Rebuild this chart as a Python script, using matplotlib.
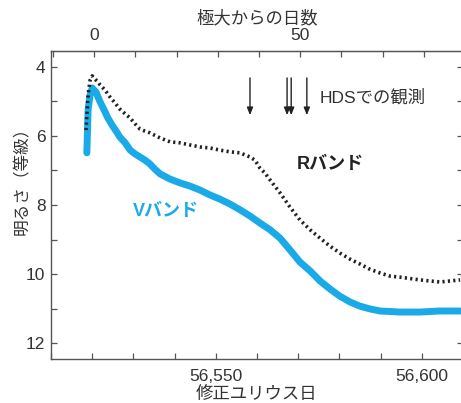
import numpy as np
import matplotlib.pyplot as plt
from matplotlib.ticker import MultipleLocator, FixedLocator, FuncFormatter

plt.rcParams['font.family'] = ['Liberation Sans', 'Noto Sans CJK JP', 'DejaVu Sans']

# 極大の日 (MJD)
t_max = 56520.5

# Vバンド (MJD, 等級)
v_mjd = [56518.7, 56519.0, 56519.5, 56520.0, 56520.4, 56520.9, 56521.4, 56521.9,
         56522.9, 56523.8, 56524.8, 56525.8, 56526.7, 56528.0, 56529.2, 56530.4,
         56531.6, 56532.8, 56534.0, 56535.2, 56536.5, 56538.9, 56541.3, 56543.7,
         56546.2, 56548.6, 56551.0, 56553.4, 56555.9, 56558.3, 56560.7, 56563.2,
         56565.6, 56568.0, 56570.4, 56572.9, 56575.3, 56577.7, 56580.1, 56582.6,
         56585.0, 56587.4, 56589.9, 56594.7, 56599.6, 56604.4, 56609.3]
v_mag = [6.49, 5.25, 4.81, 4.61, 4.67, 4.72, 4.87, 5.01,
         5.25, 5.48, 5.68, 5.86, 6.03, 6.20, 6.41, 6.52,
         6.61, 6.70, 6.81, 6.96, 7.10, 7.25, 7.36, 7.45,
         7.57, 7.71, 7.83, 7.97, 8.14, 8.32, 8.52, 8.72,
         8.96, 9.30, 9.65, 9.91, 10.20, 10.43, 10.64, 10.81,
         10.93, 11.01, 11.07, 11.10, 11.10, 11.07, 11.07]

# Rバンド (MJD, 等級)
r_mjd = [56518.5, 56518.7, 56519.0, 56519.5, 56520.0, 56520.4, 56520.9, 56521.4,
         56521.9, 56523.1, 56524.3, 56525.5, 56526.7, 56528.0, 56529.2, 56530.4,
         56531.6, 56532.8, 56534.0, 56536.5, 56538.9, 56541.3, 56543.7, 56546.2,
         56548.6, 56551.0, 56553.4, 56555.9, 56558.3, 56559.5, 56560.7, 56561.9,
         56563.2, 56565.6, 56568.0, 56570.4, 56572.9, 56575.3, 56577.7, 56580.1,
         56582.6, 56585.0, 56587.4, 56589.9, 56592.3, 56594.7, 56599.6, 56604.4,
         56609.3]
r_mag = [5.83, 5.39, 4.81, 4.38, 4.26, 4.32, 4.38, 4.43,
         4.52, 4.67, 4.87, 5.04, 5.22, 5.36, 5.48, 5.65,
         5.80, 5.86, 5.91, 6.06, 6.17, 6.20, 6.26, 6.32,
         6.35, 6.41, 6.46, 6.49, 6.61, 6.70, 6.93, 7.07,
         7.28, 7.65, 8.06, 8.43, 8.72, 8.96, 9.19, 9.39,
         9.57, 9.71, 9.86, 9.97, 10.06, 10.09, 10.17, 10.23,
         10.17]

# HDSでの観測日 (MJD)
hds_mjd = [56558.3, 56567.3, 56568.3, 56572.1]

v_color = '#1aaae8'
r_color = '#222222'
txt_color = '#333333'
spine_color = '#555555'

fig = plt.figure(figsize=(4.61, 4.03), dpi=100)
ax = fig.add_axes([51 / 461, 44 / 403, 412 / 461, 308 / 403])

ax.plot(v_mjd, v_mag, '-', color=v_color, linewidth=5, solid_joinstyle='round',
        solid_capstyle='round')
ax.plot(r_mjd, r_mag, linestyle=(0, (0.6, 0.9)), color=r_color, linewidth=2.6)

for x in hds_mjd:
    ax.annotate('', xy=(x, 5.40), xytext=(x, 4.32),
                arrowprops=dict(arrowstyle='-|>,head_length=0.45,head_width=0.18',
                                color='#222222', lw=1.0, shrinkA=0, shrinkB=0))
ax.text(56575.3, 4.87, 'HDSでの観測', fontsize=12.5, color=txt_color, va='center', ha='left')
ax.text(56569.7, 6.84, 'Rバンド', fontsize=13, fontweight='bold', color=r_color,
        va='center', ha='left')
ax.text(56529.9, 8.2, 'Vバンド', fontsize=13, fontweight='bold', color=v_color,
        va='center', ha='left')

ax.set_xlim(56510, 56610)
ax.set_ylim(12.46, 3.54)

ax.xaxis.set_major_locator(FixedLocator([56550, 56600]))
ax.xaxis.set_minor_locator(MultipleLocator(10))
ax.xaxis.set_major_formatter(FuncFormatter(lambda v, p: f'{int(v):,}'))
ax.yaxis.set_major_locator(MultipleLocator(2))
ax.yaxis.set_minor_locator(MultipleLocator(1))

ax.tick_params(which='both', direction='in', length=4, width=0.9, color=spine_color,
               labelcolor=txt_color, labelsize=12.5, top=False, right=True)
ax.tick_params(axis='x', pad=7)
ax.tick_params(axis='y', pad=4)
for s in ax.spines.values():
    s.set_color(spine_color)
    s.set_linewidth(1.0)

ax.set_xlabel('修正ユリウス日', fontsize=12.5, color=txt_color, labelpad=1.5)
ax.set_ylabel('明るさ（等級）', fontsize=12, color=txt_color)
ax.yaxis.set_label_coords(-0.05, 0.59)

top = ax.secondary_xaxis('top', functions=(lambda m: m - t_max, lambda d: d + t_max))
top.xaxis.set_major_locator(FixedLocator([0, 50]))
top.xaxis.set_minor_locator(MultipleLocator(10))
top.tick_params(which='both', direction='in', length=4, width=0.9, color=spine_color,
                labelcolor=txt_color, labelsize=12.5, pad=6)
top.spines['top'].set_color(spine_color)
top.set_xlabel('極大からの日数', fontsize=12.5, color=txt_color, labelpad=3)

fig.savefig('out.png', dpi=100)
